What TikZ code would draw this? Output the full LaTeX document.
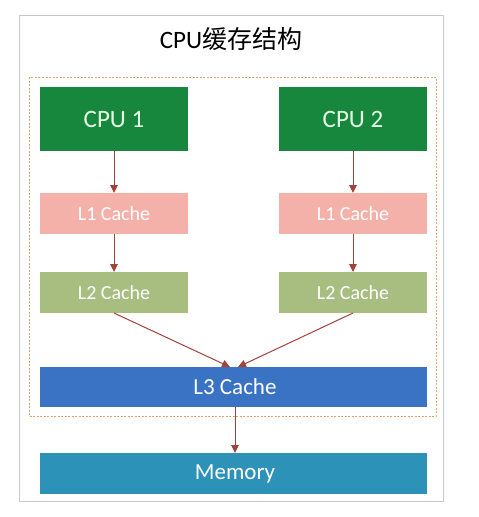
\documentclass[tikz,border=0pt]{standalone}
\usepackage{fontspec}
\setmainfont{Carlito}
\newfontfamily\cjk{Noto Sans CJK SC}
\usetikzlibrary{arrows.meta}
\definecolor{cpugreen}{HTML}{16873C}
\definecolor{lonepink}{HTML}{F3B1A9}
\definecolor{ltwoolive}{HTML}{A8BD80}
\definecolor{lthreeblue}{HTML}{3A73C3}
\definecolor{memteal}{HTML}{2C92B8}
\definecolor{arrowred}{HTML}{A2433B}
\definecolor{dashorange}{HTML}{E8A070}
\definecolor{framegray}{HTML}{C8C8C8}
\begin{document}
\begin{tikzpicture}[x=1pt,y=-1pt,
  box/.style={draw=none,inner sep=0pt,text=white},
  arr/.style={draw=arrowred,line width=1pt,-{Triangle[length=8pt,width=7.5pt]}}]
\useasboundingbox (0,0) rectangle (479,517);
\fill[white] (0,0) rectangle (479,517);
\draw[framegray,line width=0.8pt] (19,15) rectangle (443,501);
\node (title) at (231,39) {\fontsize{25}{28}\selectfont CPU{\cjk 缓存结构}};
\draw[dashorange,line width=0.6pt,dash pattern=on 2pt off 1.5pt] (29,77) rectangle (436,416);
\fill[cpugreen] (40,87) rectangle (188,151);
\node[box,text=green!10] (cpu1) at (114,119) {\fontsize{25}{28}\selectfont CPU 1};
\fill[cpugreen] (279,87) rectangle (427,151);
\node[box,text=green!10] (cpu2) at (353,119) {\fontsize{25}{28}\selectfont CPU 2};
\fill[lonepink] (40,193) rectangle (188,234);
\node[box] (l1a) at (114,213.5) {\fontsize{20}{24}\selectfont L1 Cache};
\fill[lonepink] (279,193) rectangle (427,234);
\node[box] (l1b) at (353,213.5) {\fontsize{20}{24}\selectfont L1 Cache};
\fill[ltwoolive] (40,272) rectangle (188,313);
\node[box] (l2a) at (114,292.5) {\fontsize{20}{24}\selectfont L2 Cache};
\fill[ltwoolive] (279,272) rectangle (427,313);
\node[box] (l2b) at (353,292.5) {\fontsize{20}{24}\selectfont L2 Cache};
\fill[lthreeblue] (40,367) rectangle (427,407);
\node[box] (l3) at (235,387) {\fontsize{23}{26}\selectfont L3 Cache};
\fill[memteal] (40,453) rectangle (427,494);
\node[box] (mem) at (235,473.5) {\fontsize{23}{26}\selectfont Memory};
\coordinate (cpu1b) at (114,151);
\coordinate (cpu2b) at (353,151);
\coordinate (l1at) at (114,193);
\coordinate (l1bt) at (353,193);
\coordinate (l1ab) at (114,234);
\coordinate (l1bb) at (353,234);
\coordinate (l2at) at (114,272);
\coordinate (l2bt) at (353,272);
\coordinate (l2ab) at (114,313);
\coordinate (l2bb) at (353,313);
\coordinate (l3l) at (230,367);
\coordinate (l3r) at (238,367);
\coordinate (l3b) at (235,407);
\coordinate (memt) at (235,453);
\draw[arr] (cpu1b) -- (l1at);
\draw[arr] (cpu2b) -- (l1bt);
\draw[arr] (l1ab) -- (l2at);
\draw[arr] (l1bb) -- (l2bt);
\draw[arr] (l2ab) -- (l3l);
\draw[arr] (l2bb) -- (l3r);
\draw[arr] (l3b) -- (memt);
\end{tikzpicture}
\end{document}
